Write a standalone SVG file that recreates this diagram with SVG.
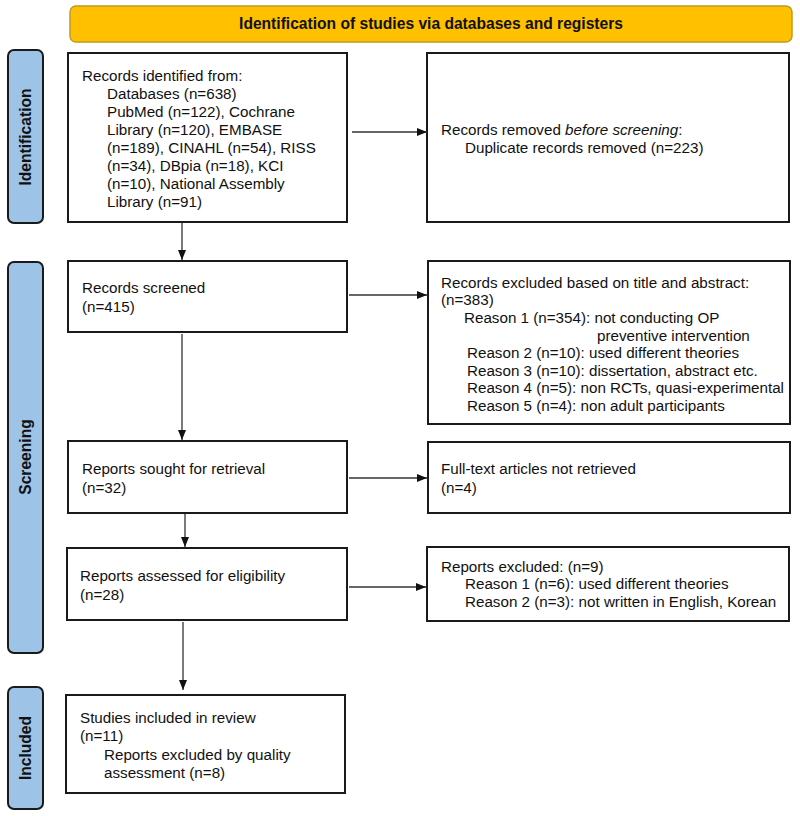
<svg xmlns="http://www.w3.org/2000/svg" width="800" height="816" viewBox="0 0 800 816">
<defs>
<marker id="ah" markerWidth="10" markerHeight="8" refX="10" refY="4" orient="auto" markerUnits="userSpaceOnUse">
<path d="M0,0 L10,4 L0,8 Z" fill="#111"/>
</marker>
<style>
.box{fill:#fff;stroke:#1a1a1a;stroke-width:2}
.side{fill:#9dc3e6;stroke:#1a1a1a;stroke-width:2}
.banner{fill:#ffc000;stroke:#c49a1c;stroke-width:1.5}
.t{font-family:"Liberation Sans",Arial,sans-serif;font-size:15.2px;fill:#111}
.b{font-family:"Liberation Sans",Arial,sans-serif;font-size:15.6px;font-weight:bold;fill:#111}
.c{stroke:#333;stroke-width:1.3;fill:none;marker-end:url(#ah)}
</style>
</defs>
<rect width="800" height="816" fill="#fff"/>
<g id="banner">
<rect class="banner" x="70" y="6" width="722" height="36" rx="6"/>
<text class="b" x="431" y="29" text-anchor="middle">Identification of studies via databases and registers</text>
</g>
<g id="label-identification">
<rect class="side" x="8" y="50" width="35" height="173" rx="6"/>
<text class="b" transform="translate(31,137) rotate(-90)" text-anchor="middle">Identification</text>
</g>
<g id="label-screening">
<rect class="side" x="8" y="262" width="35" height="391" rx="6"/>
<text class="b" transform="translate(31,457) rotate(-90)" text-anchor="middle">Screening</text>
</g>
<g id="label-included">
<rect class="side" x="8" y="687" width="35" height="122" rx="6"/>
<text class="b" transform="translate(31,748) rotate(-90)" text-anchor="middle">Included</text>
</g>
<g id="records-identified">
<rect class="box" x="68" y="53" width="279" height="169"/>
<text class="t" x="82" y="81">Records identified from:</text>
<text class="t" x="107" y="99">Databases (n=638)</text>
<text class="t" x="107" y="117">PubMed (n=122), Cochrane</text>
<text class="t" x="107" y="135">Library (n=120), EMBASE</text>
<text class="t" x="107" y="153">(n=189), CINAHL (n=54), RISS</text>
<text class="t" x="107" y="171">(n=34), DBpia (n=18), KCI</text>
<text class="t" x="107" y="189">(n=10), National Assembly</text>
<text class="t" x="107" y="207">Library (n=91)</text>
</g>
<g id="records-removed">
<rect class="box" x="427" y="53" width="362" height="169"/>
<text class="t" x="441" y="135">Records removed <tspan font-style="italic">before screening</tspan>:</text>
<text class="t" x="465" y="153">Duplicate records removed (n=223)</text>
</g>
<g id="records-screened">
<rect class="box" x="68" y="261" width="279" height="71"/>
<text class="t" x="82" y="293">Records screened</text>
<text class="t" x="82" y="312">(n=415)</text>
</g>
<g id="records-excluded">
<rect class="box" x="428" y="261" width="362" height="163"/>
<text class="t" x="441" y="288">Records excluded based on title and abstract:</text>
<text class="t" x="441" y="305">(n=383)</text>
<text class="t" x="464" y="323">Reason 1 (n=354): not conducting OP</text>
<text class="t" x="597" y="341">preventive intervention</text>
<text class="t" x="467" y="358">Reason 2 (n=10): used different theories</text>
<text class="t" x="467" y="376">Reason 3 (n=10): dissertation, abstract etc.</text>
<text class="t" x="467" y="393">Reason 4 (n=5): non RCTs, quasi-experimental</text>
<text class="t" x="467" y="411">Reason 5 (n=4): non adult participants</text>
</g>
<g id="reports-sought">
<rect class="box" x="68" y="441" width="279" height="72"/>
<text class="t" x="82" y="474">Reports sought for retrieval</text>
<text class="t" x="82" y="493">(n=32)</text>
</g>
<g id="not-retrieved">
<rect class="box" x="428" y="442" width="362" height="71"/>
<text class="t" x="441" y="474">Full-text articles not retrieved</text>
<text class="t" x="441" y="493">(n=4)</text>
</g>
<g id="reports-assessed">
<rect class="box" x="67" y="548" width="280" height="72"/>
<text class="t" x="80" y="581">Reports assessed for eligibility</text>
<text class="t" x="80" y="600">(n=28)</text>
</g>
<g id="reports-excluded">
<rect class="box" x="427" y="547" width="362" height="74"/>
<text class="t" x="441" y="572">Reports excluded: (n=9)</text>
<text class="t" x="465" y="589">Reason 1 (n=6): used different theories</text>
<text class="t" x="465" y="607">Reason 2 (n=3): not written in English, Korean</text>
</g>
<g id="studies-included">
<rect class="box" x="66" y="695" width="279" height="98"/>
<text class="t" x="80" y="723">Studies included in review</text>
<text class="t" x="80" y="741">(n=11)</text>
<text class="t" x="104" y="760">Reports excluded by quality</text>
<text class="t" x="104" y="778">assessment (n=8)</text>
</g>
<g id="connectors">
<path class="c" d="M352,132 H427"/>
<path class="c" d="M349,295 H427"/>
<path class="c" d="M349,478 H427"/>
<path class="c" d="M349,587 H426"/>
<path class="c" d="M182,223 V260"/>
<path class="c" d="M182,334 V440"/>
<path class="c" d="M185,514 V547"/>
<path class="c" d="M183,622 V690"/>
</g>
</svg>
